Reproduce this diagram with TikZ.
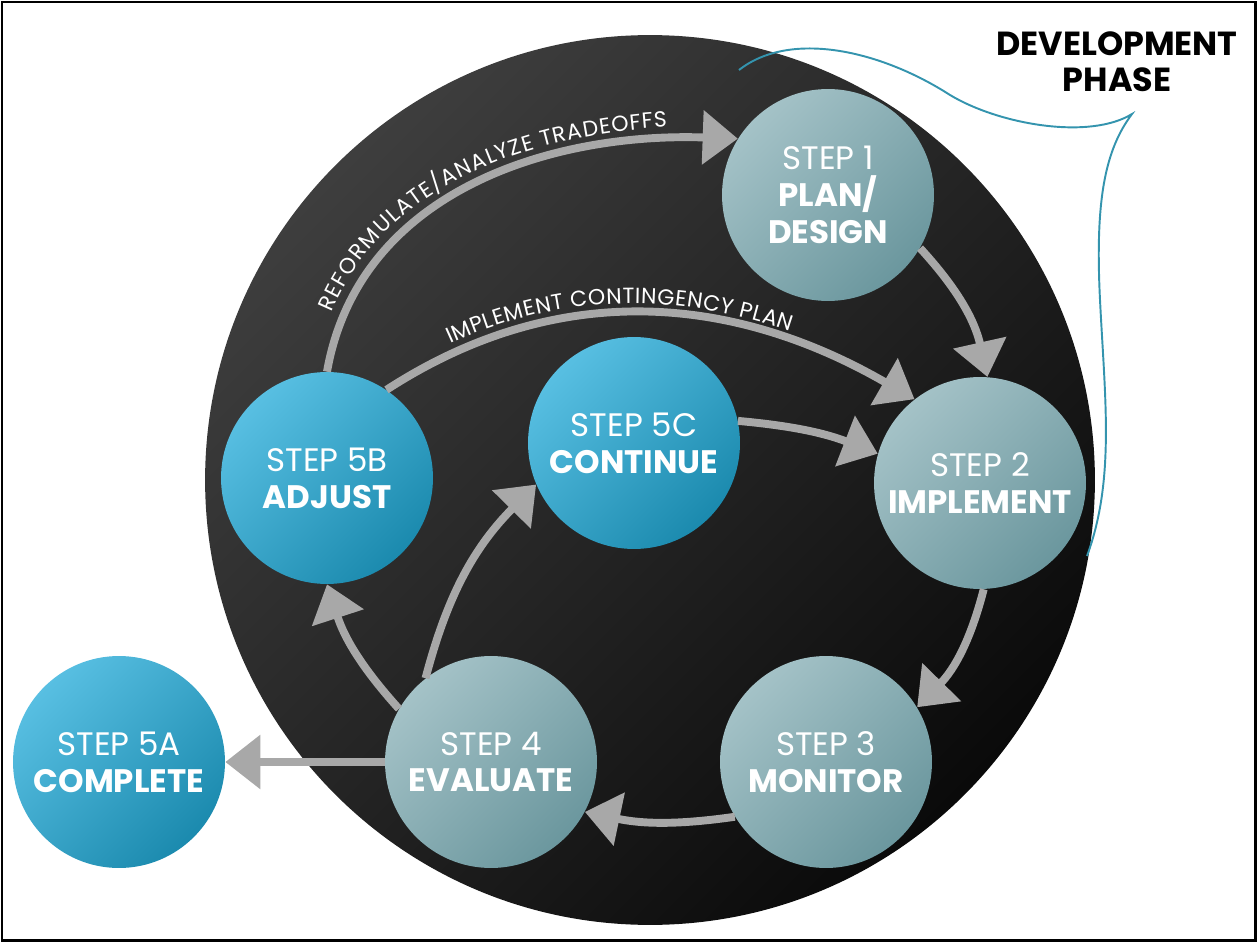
\documentclass[tikz,border=0pt]{standalone}
\usepackage{fontspec}
\newfontfamily\stepfont{Poppins}
\newcommand{\arclabelfont}{\stepfont\fontsize{12.5}{14}\selectfont}
\usetikzlibrary{arrows.meta,decorations.text,positioning}

\definecolor{ringtop}{HTML}{3E3E3E}
\definecolor{ringbot}{HTML}{0A0A0A}
\definecolor{tealtop}{HTML}{A4C2C7}
\definecolor{tealbot}{HTML}{6B979E}
\definecolor{bluetop}{HTML}{58BFE2}
\definecolor{bluebot}{HTML}{1B8AAE}
\definecolor{flowgrey}{HTML}{A8A8A8}
\definecolor{phaseblue}{HTML}{3494AE}

\begin{document}
\begin{tikzpicture}[x=0.02cm, y=-0.02cm,
  stepnode/.style={circle, minimum size=4.24cm, inner sep=0pt, align=center,
    text=white, font=\stepfont\fontsize{18.5}{21}\selectfont},
  greystep/.style={stepnode, top color=tealtop, bottom color=tealbot, shading angle=45},
  bluestep/.style={stepnode, top color=bluetop, bottom color=bluebot, shading angle=45},
  flow/.style={draw=flowgrey, line width=4.5pt, -{Triangle[length=20pt,width=30pt]}}]
\useasboundingbox (0,0) rectangle (1257,942);
\draw[line width=1.7pt] (2,2) rectangle (1255,940);

% dark disc
\shade[top color=ringtop, bottom color=ringbot, shading angle=45] (650,480) circle (8.9cm);

% development phase bracket
\draw[phaseblue, line width=1.1pt] (739,70) .. controls (790,30) and (880,50) .. (950,95)
  .. controls (1000,125) and (1090,140) .. (1132,114)
  .. controls (1105,150) and (1095,200) .. (1100,300)
  .. controls (1105,400) and (1115,480) .. (1087,556);
\node[font=\stepfont\bfseries\fontsize{19}{20.5}\selectfont, align=center] (phase) at (1117,62) {DEVELOPMENT\\PHASE};

% steps
\node[greystep] (s1) at (828,195) {STEP 1\\\textbf{PLAN/}\\\textbf{DESIGN}};
\node[greystep] (s2) at (980,483) {STEP 2\\\textbf{IMPLEMENT}};
\node[greystep] (s3) at (826,762) {STEP 3\\\textbf{MONITOR}};
\node[greystep] (s4) at (491,762) {STEP 4\\\textbf{EVALUATE}};
\node[bluestep] (s5a) at (119,762) {STEP 5A\\\textbf{COMPLETE}};
\node[bluestep] (s5b) at (327,478) {STEP 5B\\\textbf{ADJUST}};
\node[bluestep] (s5c) at (634,443) {STEP 5C\\\textbf{CONTINUE}};

% cycle
\draw[flow] (s1.-30) to[bend left=15] (s2.86);
\draw[flow] (s2.-88) to[bend left=15] (s3.31);
\draw[flow] (s3.-149) to[bend left=10] (s4.-28);
\draw[flow] (s4.150) to[bend left=12] (s5b.-90);
\draw[flow] (s4.128) to[bend left=15] (s5c.203);
\draw[flow] (s4.west) -- (s5a.east);
\draw[flow] (s5c.12) to[bend left=8] (s2.164);

% loops back
\draw[flow, postaction={decorate, decoration={text along path, text color=white, raise=5.5pt,
    text align={fit to path, left indent=44pt, right indent=80pt},
    text={|\arclabelfont|IMPLEMENT CONTINGENCY PLAN}}}]
  (s5b.56) to[out=33, in=150] (s2.128);
\draw[flow, postaction={decorate, decoration={text along path, text color=white, raise=7pt,
    text align={fit to path, left indent=32pt, right indent=40pt},
    text={|\arclabelfont|REFORMULATE/ANALYZE TRADEOFFS}}}]
  (s5b.90) to[out=80, in=178] (s1.148);
\end{tikzpicture}
\end{document}
